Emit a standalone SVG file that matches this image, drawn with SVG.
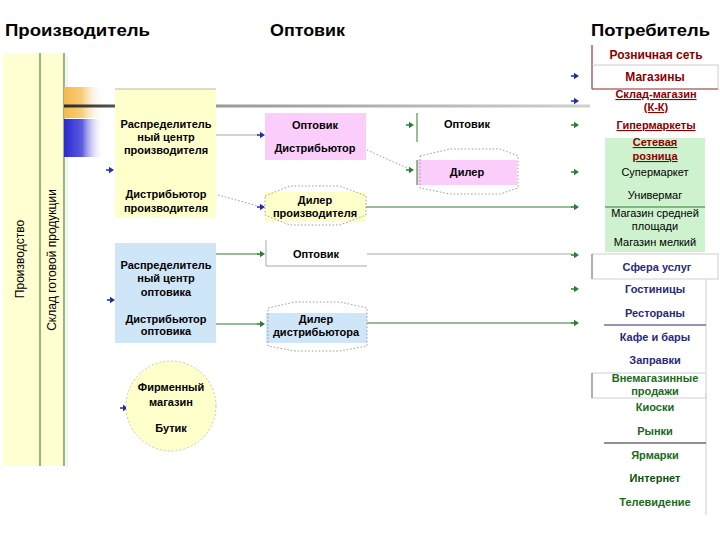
<svg xmlns="http://www.w3.org/2000/svg" xmlns:xlink="http://www.w3.org/1999/xlink" width="720" height="540" viewBox="0 0 720 540">
<style>
text{font-family:"Liberation Sans",Arial,sans-serif;font-size:11px;text-anchor:middle}
.h{font-size:17px;font-weight:bold;text-anchor:start;fill:#000}
.b{font-weight:bold;fill:#000}
.r{font-weight:bold;fill:#8b0000}
.u{text-decoration:underline}
.n{fill:#000}
.nv{font-weight:bold;fill:#2a2a78}
.g{font-weight:bold;fill:#1a6a1a}
.dot{fill:none;stroke:#9a9a9a;stroke-width:1;stroke-dasharray:1.5 2}
.gl{stroke:#2e7d32;stroke-width:1.2;fill:none}
.gy{stroke:#a8a8a8;stroke-width:1.2;fill:none}
.ab{fill:#1f2fa0}
.ag{fill:#2e7d32}
</style>
<defs>
<path id="ar" d="M-8,-0.8 H-5 V-3.2 L0,0 L-5,3.2 V0.8 H-8 Z"/>
<linearGradient id="og" x1="0" y1="0" x2="1" y2="0"><stop offset="0" stop-color="#f6b84a"/><stop offset="0.45" stop-color="#f8cd7a"/><stop offset="1" stop-color="#fff" stop-opacity="0"/></linearGradient>
<linearGradient id="bg" x1="0" y1="0" x2="1" y2="0"><stop offset="0" stop-color="#2a2ad0"/><stop offset="0.45" stop-color="#5a5ae0"/><stop offset="1" stop-color="#fff" stop-opacity="0"/></linearGradient>
<linearGradient id="lg" gradientUnits="userSpaceOnUse" x1="64" y1="0" x2="590" y2="0"><stop offset="0" stop-color="#2a2a2a"/><stop offset="0.1" stop-color="#555"/><stop offset="0.3" stop-color="#9a9a9a"/><stop offset="1" stop-color="#d0d0d0"/></linearGradient>
</defs>

<g id="headers">
<text class="h" x="5" y="36" textLength="145" lengthAdjust="spacingAndGlyphs">Производитель</text>
<text class="h" x="270" y="36" textLength="75" lengthAdjust="spacingAndGlyphs">Оптовик</text>
<text class="h" x="591" y="36" textLength="119" lengthAdjust="spacingAndGlyphs">Потребитель</text>
</g>

<g id="producer-columns">
<rect x="3" y="53" width="61" height="413" fill="#ffffd2"/>
<line x1="40" y1="53" x2="40" y2="466" stroke="#4a8a3a" stroke-width="1.2"/>
<line x1="64" y1="53" x2="64" y2="466" stroke="#4a8a3a" stroke-width="1.2"/>
<line x1="67" y1="56" x2="67" y2="468" stroke="#e4e4e4" stroke-width="1"/>
<text class="n" transform="translate(24,259) rotate(-90)" style="font-size:12px">Производство</text>
<text class="n" transform="translate(56,260) rotate(-90)" style="font-size:12px">Склад готовой продукции</text>
<rect x="64" y="87" width="40" height="31" fill="url(#og)"/>
<rect x="64" y="119" width="40" height="38" fill="url(#bg)"/>
</g>

<g id="connectors">
<line x1="64" y1="106" x2="590" y2="106" stroke="url(#lg)" stroke-width="3"/>
<line class="gy" x1="216" y1="135" x2="258" y2="135"/>
<use href="#ar" class="ab" x="265" y="135"/>
<path class="dot" d="M218,195 L258,206"/>
<use href="#ar" class="ab" x="265" y="207"/>
<path class="dot" d="M367,150 L407,168"/>
<use href="#ar" class="ag" x="414" y="170"/>
<line class="gl" x1="366" y1="207" x2="572" y2="207"/>
<use href="#ar" class="ag" x="579" y="207"/>
<line class="gl" x1="216" y1="254" x2="258" y2="254"/>
<use href="#ar" class="ag" x="265" y="254"/>
<line class="gy" x1="367" y1="254" x2="572" y2="254"/>
<line class="gl" x1="216" y1="324" x2="258" y2="324"/>
<use href="#ar" class="ag" x="265" y="324"/>
<line class="gl" x1="367" y1="323" x2="572" y2="323"/>
<use href="#ar" class="ag" x="579" y="323"/>
<use href="#ar" class="ab" x="114" y="170"/>
<use href="#ar" class="ab" x="115" y="300"/>
<use href="#ar" class="ab" x="128" y="408"/>
<use href="#ar" class="ag" x="414" y="125"/>
<use href="#ar" class="ab" x="579" y="76"/>
<use href="#ar" class="ab" x="579" y="101"/>
<use href="#ar" class="ag" x="579" y="125"/>
<use href="#ar" class="ag" x="579" y="172"/>
<use href="#ar" class="ag" x="579" y="255"/>
<use href="#ar" class="ag" x="579" y="289"/>
</g>

<g id="producer-dc">
<rect x="115" y="89" width="101" height="129" fill="#ffffcc"/>
<line x1="115" y1="89" x2="216" y2="89" stroke="#b8b8a0" stroke-width="1"/>
<text class="b" x="166" y="128">Распределитель</text>
<text class="b" x="166" y="141">ный центр</text>
<text class="b" x="166" y="154">производителя</text>
<text class="b" x="166" y="198">Дистрибьютор</text>
<text class="b" x="166" y="212">производителя</text>
</g>

<g id="wholesaler-distributor">
<rect x="265" y="113" width="101" height="47" fill="#fbcdfb"/>
<text class="b" x="315" y="129">Оптовик</text>
<text class="b" x="315" y="152">Дистрибьютор</text>
</g>

<g id="producer-dealer">
<rect x="265" y="192" width="101" height="30" fill="#ffffcc"/>
<polygon class="dot" points="265,196 290,186 340,186 366,196 366,215 340,225 290,225 265,215"/>
<text class="b" x="315" y="204">Дилер</text>
<text class="b" x="315" y="217">производителя</text>
</g>

<g id="wholesaler2">
<line x1="417" y1="113" x2="417" y2="142" stroke="#2e7d32" stroke-width="1"/>
<text class="b" x="467" y="128">Оптовик</text>
</g>

<g id="dealer">
<rect x="417" y="160" width="100" height="25" fill="#fbcdfb"/>
<line x1="417" y1="160" x2="417" y2="185" stroke="#2e7d32" stroke-width="1"/>
<polygon class="dot" points="420,156 450,149 500,149 518,156 518,188 500,194 450,194 420,188"/>
<text class="b" x="467" y="176">Дилер</text>
</g>

<g id="wholesaler-dc">
<rect x="115" y="243" width="101" height="100" fill="#cfe6f8"/>
<text class="b" x="166" y="269">Распределитель</text>
<text class="b" x="166" y="282">ный центр</text>
<text class="b" x="166" y="296">оптовика</text>
<text class="b" x="166" y="323">Дистрибьютор</text>
<text class="b" x="166" y="335">оптовика</text>
</g>

<g id="wholesaler3">
<polyline points="266,240 266,266 367,266" fill="none" stroke="#a8a8a8" stroke-width="1"/>
<text class="b" x="316" y="258">Оптовик</text>
</g>

<g id="distributor-dealer">
<rect x="266" y="313" width="101" height="30" fill="#cfe6f8"/>
<polygon class="dot" points="268,308 295,302 340,302 367,308 367,346 340,351 295,351 268,346"/>
<text class="b" x="316" y="323">Дилер</text>
<text class="b" x="316" y="336">дистрибьютора</text>
</g>

<g id="brand-store">
<circle cx="171" cy="406" r="45" fill="#ffffcc" stroke="#c8c8b0" stroke-width="1" stroke-dasharray="2 2"/>
<text class="b" x="171" y="391">Фирменный</text>
<text class="b" x="171" y="406">магазин</text>
<text class="b" x="171" y="432">Бутик</text>
</g>

<g id="retail">
<line x1="592" y1="45" x2="592" y2="65" stroke="#b03030" stroke-width="1.2"/>
<text class="r" x="656" y="59" style="font-size:12px">Розничная сеть</text>
<rect x="592" y="65" width="126" height="24" fill="#fff" stroke="#d8c8c8" stroke-width="1"/>
<line x1="592" y1="65" x2="592" y2="89" stroke="#8b3030" stroke-width="1"/>
<line x1="592" y1="89" x2="718" y2="89" stroke="#a04040" stroke-width="1"/>
<text class="r" x="655" y="81" style="font-size:12px">Магазины</text>
<text class="r u" x="656" y="98">Склад-магазин</text>
<text class="r u" x="656" y="111">(К-К)</text>
<text class="r u" x="656" y="129">Гипермаркеты</text>
<rect x="605" y="138" width="100" height="114" fill="#cdf2cd"/>
<line x1="605" y1="207" x2="705" y2="207" stroke="#3a7a3a" stroke-width="1"/>
<text class="r u" x="655" y="146">Сетевая</text>
<text class="r u" x="655" y="160">розница</text>
<text class="n" x="655" y="176">Супермаркет</text>
<text class="n" x="655" y="199">Универмаг</text>
<text class="n" x="655" y="217">Магазин средней</text>
<text class="n" x="655" y="230">площади</text>
<text class="n" x="655" y="246">Магазин мелкий</text>
</g>

<g id="services">
<rect x="592" y="254" width="126" height="25" fill="#fff" stroke="#cfcfcf" stroke-width="1"/>
<line x1="592" y1="254" x2="592" y2="279" stroke="#777" stroke-width="1"/>
<line x1="706" y1="279" x2="706" y2="372" stroke="#cfcfcf" stroke-width="1"/>
<text class="nv" x="657" y="271">Сфера услуг</text>
<text class="nv" x="655" y="293">Гостиницы</text>
<text class="nv" x="655" y="317">Рестораны</text>
<line x1="604" y1="325" x2="706" y2="325" stroke="#2a2a60" stroke-width="1"/>
<text class="nv" x="655" y="341">Кафе и бары</text>
<text class="nv" x="655" y="364">Заправки</text>
</g>

<g id="non-store">
<rect x="592" y="373" width="114" height="25" fill="#fff" stroke="#cfcfcf" stroke-width="1"/>
<line x1="592" y1="373" x2="592" y2="398" stroke="#777" stroke-width="1"/>
<line x1="706" y1="393" x2="706" y2="515" stroke="#cfcfcf" stroke-width="1"/>
<text class="g" x="655" y="382">Внемагазинные</text>
<text class="g" x="655" y="395">продажи</text>
<text class="g" x="655" y="411">Киоски</text>
<text class="g" x="655" y="435">Рынки</text>
<line x1="604" y1="443" x2="706" y2="443" stroke="#222" stroke-width="1"/>
<text class="g" x="655" y="459">Ярмарки</text>
<text class="g" x="655" y="482" style="fill:#0d500d">Интернет</text>
<text class="g" x="655" y="506">Телевидение</text>
</g>
</svg>
